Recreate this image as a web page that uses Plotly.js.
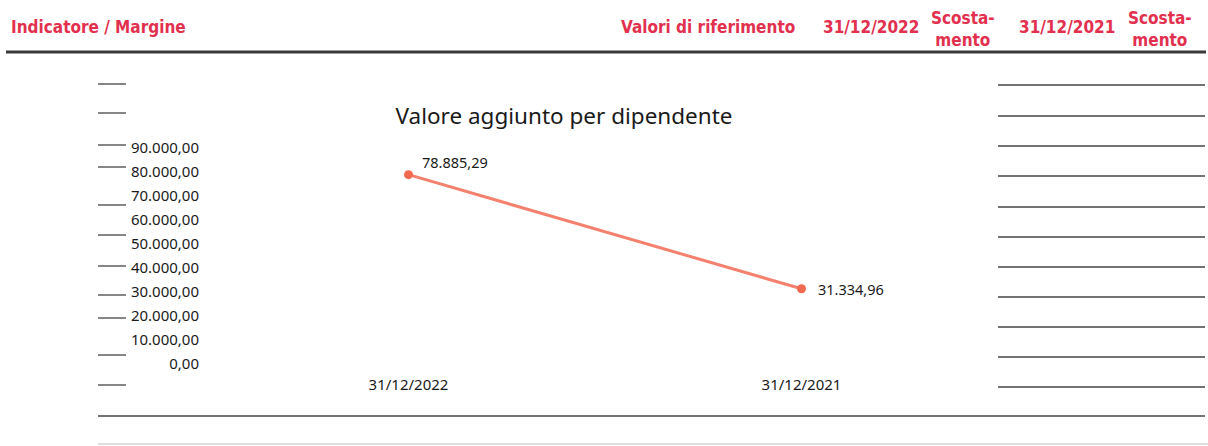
<!DOCTYPE html>
<html>
<head>
<meta charset="utf-8">
<script src="https://cdn.plot.ly/plotly-3.0.1.min.js"></script>
<style>
  html, body { margin: 0; padding: 0; background: #ffffff; }
  #chart { width: 1208px; height: 446px; }
</style>
</head>
<body>
<div id="chart"></div>
<script>
// ---- data ----
const categories = ["31/12/2022", "31/12/2021"];
const values = [78885.29, 31334.96];
const yTickValues = [0, 10000, 20000, 30000, 40000, 50000, 60000, 70000, 80000, 90000];
const chartTitle = "Valore aggiunto per dipendente";
const headerLabels = ["Indicatore / Margine", "Valori di riferimento", "31/12/2022", "Scosta-<br>mento", "31/12/2021", "Scosta-<br>mento"];

// ---- layout geometry (pixels) ----
const W = 1208, H = 446;
const plotL = 212, plotR = 998, plotT = 148, plotB = 364;
const px = x => (x - plotL) / (plotR - plotL);
const py = y => (plotB - y) / (plotB - plotT);

const red = "#e2304f";
const headerFont = { family: "Liberation Sans Narrow, DejaVu Sans Condensed, Arial Narrow, sans-serif", size: 17, color: red, weight: 700 };
const bodyFont = "Noto Sans, Open Sans, sans-serif";

// Italian number format (thousands '.', decimals ',')
function fmtIt(v) {
  const s = v.toFixed(2).split(".");
  const intPart = s[0].replace(/\B(?=(\d{3})+(?!\d))/g, ".");
  return intPart + "," + s[1];
}

const headerPos = [
  { x: 9, y: 27, anchor: "left" },
  { x: 619, y: 27, anchor: "left" },
  { x: 821, y: 27, anchor: "left" },
  { x: 963, y: 29, anchor: "center" },
  { x: 1017, y: 27, anchor: "left" },
  { x: 1160, y: 29, anchor: "center" }
];
const annotations = headerLabels.map((t, i) => ({
  text: "<b>" + t + "</b>",
  xref: "paper", yref: "paper",
  x: px(headerPos[i].x), y: py(headerPos[i].y),
  xanchor: headerPos[i].anchor, yanchor: "middle",
  showarrow: false, align: "center",
  font: headerFont
}));

// data labels anchored on the data points
const labelShift = [{ dx: 11, dy: 13 }, { dx: 14, dy: 0 }];
values.forEach((v, i) => annotations.push({
  text: fmtIt(v),
  xref: "x", yref: "y",
  x: categories[i], y: v,
  xanchor: "left", yanchor: "middle",
  xshift: labelShift[i].dx, yshift: labelShift[i].dy,
  showarrow: false,
  font: { family: bodyFont, size: 14.5, color: "#1a1a1a" }
}));

const shapes = [];
const line = (x0, x1, y, w, c) => shapes.push({
  type: "line", xref: "paper", yref: "paper",
  x0: px(x0), x1: px(x1), y0: py(y), y1: py(y),
  line: { color: c, width: w }
});
// top thick rule
line(6, 1206, 52, 3, "#3a3a3a");
// left short dashes
[84, 113, 145, 167, 205, 235, 266, 295, 318, 355, 385].forEach(y => line(98, 126, y, 1.3, "#444"));
// right form lines
[85, 116, 146, 176, 207, 237, 267, 297, 327, 357, 387].forEach(y => line(998, 1205, y, 1.3, "#444"));
// long bottom rules
line(98, 1205, 416, 1.6, "#444");
line(98, 1208, 444, 1, "#bdbdbd");

const trace = {
  x: categories,
  y: values,
  type: "scatter",
  mode: "lines+markers",
  line: { color: "#f4806e", width: 3 },
  marker: { color: "#f26a50", size: 9 },
  cliponaxis: false,
  hoverinfo: "skip"
};

const layout = {
  width: W, height: H,
  paper_bgcolor: "#ffffff", plot_bgcolor: "#ffffff",
  separators: ",.",
  showlegend: false,
  margin: { l: plotL, r: W - plotR, t: plotT, b: H - plotB, pad: 0 },
  title: {
    text: chartTitle,
    xref: "container", yref: "container",
    x: 564 / W, y: 1 - 116 / H, xanchor: "center", yanchor: "middle",
    font: { family: bodyFont, size: 22.5, color: "#1a1a1a" }
  },
  xaxis: {
    type: "category",
    range: [-0.5, 1.5],
    showgrid: false, zeroline: false, showline: false, ticks: "",
    tickfont: { family: bodyFont, size: 15, color: "#1a1a1a" },
    ticklabelstandoff: 10
  },
  yaxis: {
    range: [0, 90000],
    tickvals: yTickValues,
    tickformat: ",.2f",
    showgrid: false, zeroline: false, showline: false, ticks: "",
    tickfont: { family: bodyFont, size: 15, color: "#1a1a1a" },
    ticklabelstandoff: 12
  },
  shapes: shapes,
  annotations: annotations
};

Plotly.newPlot("chart", [trace], layout, { displayModeBar: false, staticPlot: true });
</script>
</body>
</html>
